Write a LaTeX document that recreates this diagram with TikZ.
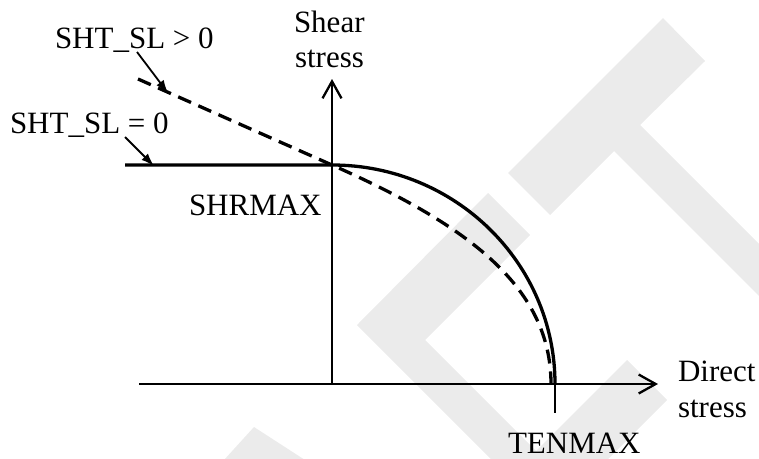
\documentclass[tikz,border=0pt]{standalone}
\usepackage{fontspec}
\setmainfont{Liberation Serif}
\usetikzlibrary{arrows.meta}
\definecolor{wm}{HTML}{EBEBEB}
\tikzset{
  lbl/.style={anchor=base west, inner sep=0pt, outer sep=0pt, text depth=0pt, font=\fontsize{31}{36}\selectfont},
  axis/.style={line width=2.3pt, -{Straight Barb[length=17pt,width=19pt]}},
  curve/.style={line width=3.3pt},
  dcurve/.style={line width=3.3pt, dash pattern=on 14pt off 8pt},
  ptr/.style={line width=1.8pt, -{Latex[length=13pt,width=9pt]}},
  tick/.style={line width=1.8pt},
  wmark/.style={fill=wm, draw=none}
}
\begin{document}
\begin{tikzpicture}[x=1pt,y=-1pt]
\useasboundingbox (0,0) rectangle (759,458);
% watermark
\begin{scope}
\clip (0,0) rectangle (759,458);
\fill[wmark] (508,173) -- (663,18) -- (705,61) -- (640,125) -- (800,285) -- (800,337) -- (614,151) -- (550,215) -- cycle;
\fill[wmark] (488,193) -- (530,235) -- (425,340) -- (545,460) -- (492,460) -- (357,325) -- cycle;
\fill[wmark] (627,360) -- (667,400) -- (607,460) -- (527,460) -- cycle;
\fill[wmark] (254,427) -- (305,460) -- (224,460) -- cycle;
\end{scope}
% coordinates
\coordinate (O) at (332,384);
\coordinate (xstart) at (139,384);
\coordinate (xend) at (658,384);
\coordinate (yend) at (332,79);
\coordinate (S) at (332,165);
\coordinate (L0) at (125,165);
\coordinate (D0) at (138,79);
\coordinate (T) at (555,384);
\coordinate (Tb) at (555,413);
\coordinate (Td) at (551,384);
\coordinate (p1s) at (137,52);
\coordinate (p1t) at (168,93);
\coordinate (p2s) at (125,137);
\coordinate (p2t) at (154,166);
% axes
\draw[axis] (xstart) -- (xend);
\draw[axis] (O) -- (yend);
% curves
\draw[curve] (L0) -- (S) .. controls (455.2,165) and (555,263) .. (T);
\draw[dcurve] (D0) -- (S) .. controls (462,222.6) and (551,284) .. (Td);
\draw[tick] (555,372) -- (Tb);
% pointers
\draw[ptr] (p1s) -- (p1t);
\draw[ptr] (p2s) -- (p2t);
% labels
\node[lbl] (shear1) at (294,32) {Shear};
\node[lbl] (shear2) at (295,67) {stress};
\node[lbl] (sgt) at (55,48) {SHT\_SL > 0};
\node[lbl] (seq) at (10,133) {SHT\_SL = 0};
\node[lbl] (shrmax) at (189,215) {SHRMAX};
\node[lbl] (tenmax) at (508,453) {TENMAX};
\node[lbl] (direct1) at (678,381) {Direct};
\node[lbl] (direct2) at (678,417) {stress};
\end{tikzpicture}
\end{document}
